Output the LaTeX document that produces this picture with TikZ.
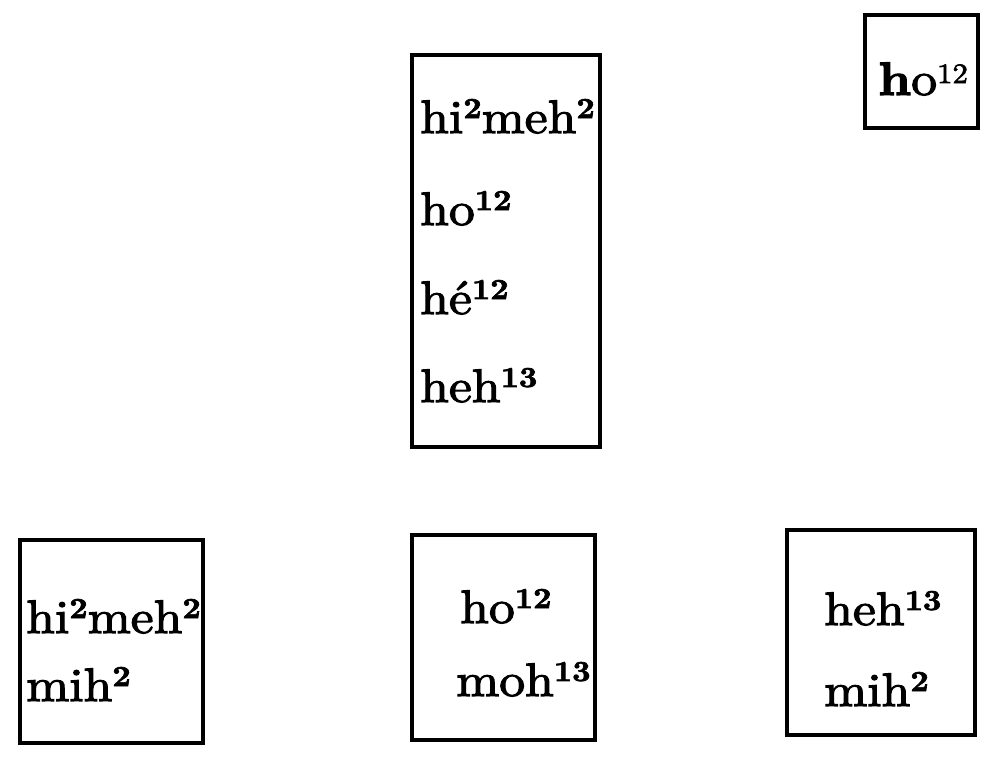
\documentclass[tikz,border=0pt]{standalone}
\usepackage{fontspec}
\setmainfont{lmroman10-regular.otf}[BoldFont=lmroman10-bold.otf, FakeStretch=1.1, FakeBold=2.4]
\newcommand{\sups}[1]{\raisebox{15pt}{\fontsize{29}{29}\selectfont\bfseries #1}}
\newcommand{\supsmall}[1]{\raisebox{12pt}{\fontsize{28}{28}\selectfont #1}}
\begin{document}
\begin{tikzpicture}[x=1pt,y=-1pt,
  boxst/.style={draw, line width=3.4pt, inner sep=0pt},
  txt/.style={anchor=base west, inner sep=0pt, font=\fontsize{47}{50}\selectfont}]
\useasboundingbox (0,0) rectangle (983,758);
% boxes
\node[boxst, minimum width=113pt, minimum height=113pt] (tr) at (921.5,71.5) {};
\node[boxst, minimum width=188pt, minimum height=392pt] (mid) at (506,251) {};
\node[boxst, minimum width=183pt, minimum height=203pt] (bl) at (111.5,641.5) {};
\node[boxst, minimum width=183pt, minimum height=205pt] (bm) at (503.5,637.5) {};
\node[boxst, minimum width=188pt, minimum height=205pt] (br) at (881,632.5) {};
% top right
\node[txt] (tr1) at (878,95) {\textbf{h}o\supsmall{12}};
% middle tall box
\node[txt] (m1) at (420,133) {hi\sups{2}meh\sups{2}};
\node[txt] (m2) at (420,225) {ho\sups{12}};
\node[txt] (m3) at (420,314) {hé\sups{12}};
\node[txt] (m4) at (420,402) {heh\sups{13}};
% bottom left
\node[txt] (bl1) at (26,633) {hi\sups{2}meh\sups{2}};
\node[txt] (bl2) at (26,701) {mih\sups{2}};
% bottom middle
\node[txt] (bm1) at (460,623) {ho\sups{12}};
\node[txt] (bm2) at (456,696) {moh\sups{13}};
% bottom right
\node[txt] (br1) at (824,625) {heh\sups{13}};
\node[txt] (br2) at (824,706) {mih\sups{2}};
\end{tikzpicture}
\end{document}
